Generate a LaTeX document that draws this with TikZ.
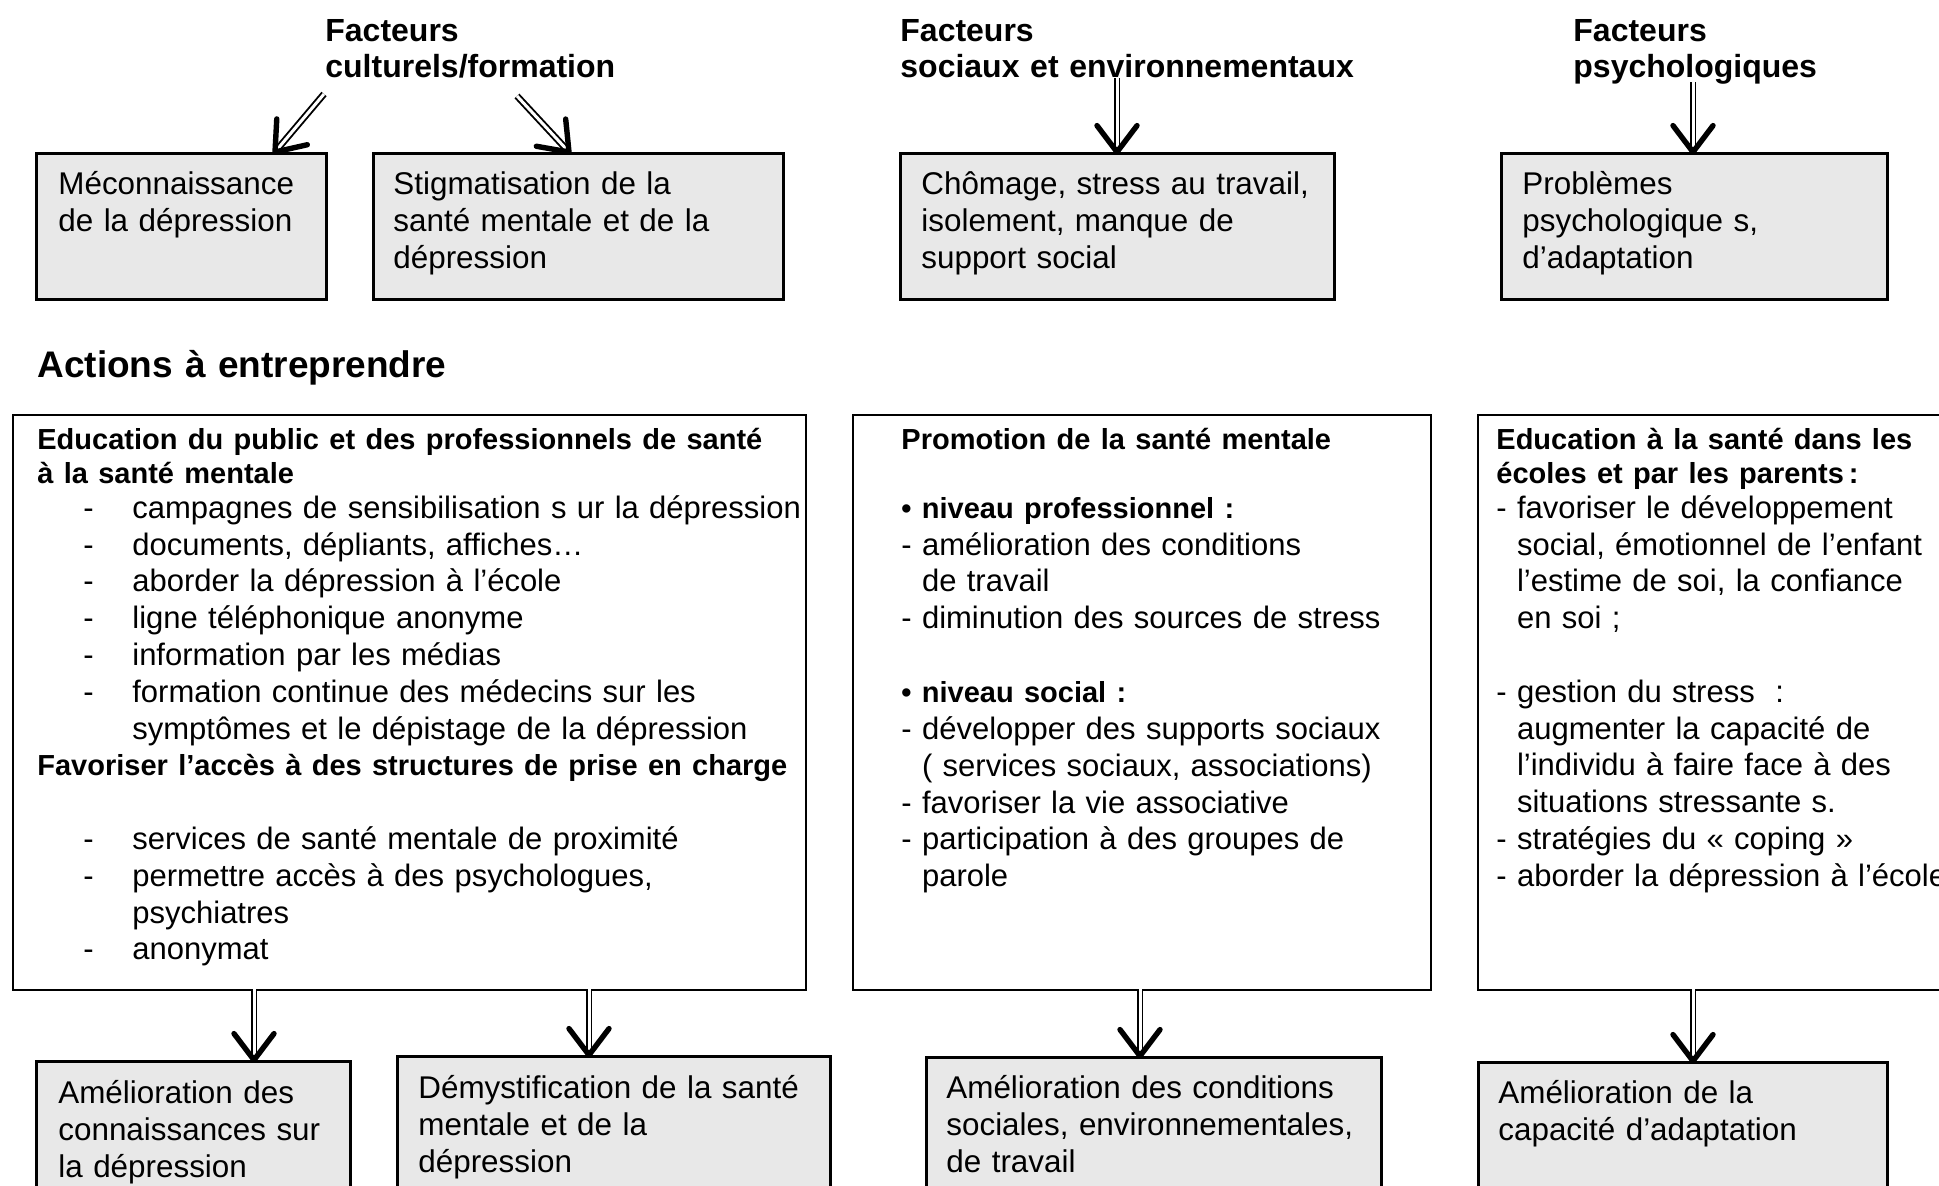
\documentclass[tikz,border=0pt]{standalone}
\usepackage{fontspec}
\setmainfont{Liberation Sans}
\usetikzlibrary{decorations.markings}
\definecolor{boxgray}{HTML}{E8E8E8}
\newcommand\dashitem[1]{\hspace*{23pt}\makebox[24.5pt][l]{-}#1}
\newcommand\dashcont{\hspace*{47.5pt}}
\newcommand\indsp{\phantom{- }}
\newcommand\boldline[1]{{\fontsize{14.5}{17.3}\selectfont\bfseries #1}}
\begin{document}
\begin{tikzpicture}[x=0.5pt,y=-0.5pt,
  font=\fontsize{15.7}{18.5}\selectfont,
  gbox/.style={draw, line width=1.3pt, fill=boxgray, anchor=north west, inner sep=0pt},
  wbox/.style={draw, line width=0.8pt, fill=white, anchor=north west, inner sep=0pt},
  txt/.style={anchor=base west, inner sep=0pt, text width=480pt, align=left},
  bigtxt/.style={txt, font=\fontsize{15.5}{18.4}\selectfont},
  ttl/.style={txt, font=\fontsize{16}{18}\selectfont\bfseries},
  shaft/.style={draw, double, double distance=1.5pt, line width=0.95pt, shorten >=1pt},
  vhead/.style={postaction={decorate, decoration={markings, mark=at position 1 with
      {\draw[line width=2.7pt, line join=round, line cap=round] (-13.2pt,10pt) -- (0,0) -- (-13.2pt,-10pt);}}}}
]
\useasboundingbox (0,0) rectangle (1939,1185);
\fill[white] (0,0) rectangle (1939,1185);

% titles
\node[ttl] (f1) at (325,41) {Facteurs\\culturels/formation};
\node[ttl] (f2) at (900,41) {Facteurs\\sociaux et environnementaux};
\node[ttl] (f3) at (1573,41) {Facteurs\\psychologiques};

% top boxes
\node[gbox, minimum width=145pt, minimum height=73pt] (b1) at (35,152) {};
\node[gbox, minimum width=205pt, minimum height=73pt] (b2) at (372,152) {};
\node[gbox, minimum width=217pt, minimum height=73pt] (b3) at (899,152) {};
\node[gbox, minimum width=193pt, minimum height=73pt] (b4) at (1500,152) {};
\node[txt] (tb1) at (58,194) {Méconnaissance\\de la dépression};
\node[txt] (tb2) at (393,194) {Stigmatisation de la\\santé mentale et de la\\dépression};
\node[txt] (tb3) at (921,194) {Chômage, stress au travail,\\isolement, manque de\\support social};
\node[txt] (tb4) at (1522,194) {Problèmes\\psychologique s,\\d’adaptation};

% section heading
\node[txt, font=\fontsize{18.5}{20}\selectfont\bfseries] (act) at (37,377) {Actions à entreprendre};

% big boxes
\node[wbox, minimum width=396.5pt, minimum height=287.5pt] (A) at (12,414) {};
\node[wbox, minimum width=289pt, minimum height=287.5pt] (B) at (852,414) {};
\node[wbox, minimum width=245pt, minimum height=287.5pt] (C) at (1477,414) {};

\node[bigtxt] (tA) at (37,449) {\boldline{Education du public et des professionnels de santé}\\[-1.1pt]
\boldline{à la santé mentale}\\[-1.1pt]
\dashitem{campagnes de sensibilisation s ur la dépression}\\
\dashitem{documents, dépliants, affiches…}\\
\dashitem{aborder la dépression à l’école}\\
\dashitem{ligne téléphonique anonyme}\\
\dashitem{information par les médias}\\
\dashitem{formation continue des médecins sur les}\\
\dashcont symptômes et le dépistage de la dépression\\
\boldline{Favoriser l’accès à des structures de prise en charge}\\[18.4pt]
\dashitem{services de santé mentale de proximité}\\
\dashitem{permettre accès à des psychologues,}\\
\dashcont psychiatres\\
\dashitem{anonymat}};

\node[bigtxt] (tB) at (901,449) {\boldline{Promotion de la santé mentale}\\[16.2pt]
\boldline{• niveau professionnel :}\\
- amélioration des conditions\\
\indsp de travail\\
- diminution des sources de stress\\[18.6pt]
\boldline{• niveau social :}\\
- développer des supports sociaux\\
\indsp ( services sociaux, associations)\\
- favoriser la vie associative\\
- participation à des groupes de\\
\indsp parole};

\node[bigtxt] (tC) at (1496,449) {\boldline{Education à la santé dans les}\\[-1.1pt]
\boldline{écoles et par les parents\,:}\\[-1.1pt]
- favoriser le développement\\
\indsp social, émotionnel de l’enfant\\
\indsp l’estime de soi, la confiance\\
\indsp en soi ;\\[18.4pt]
- gestion du stress~ :\\
\indsp augmenter la capacité de\\
\indsp l’individu à faire face à des\\
\indsp situations stressante s.\\
- stratégies du « coping »\\
- aborder la dépression à l’école};

% bottom boxes
\node[gbox, minimum width=157pt, minimum height=70pt] (ra) at (35,1060) {};
\node[gbox, minimum width=216.5pt, minimum height=73pt] (rb) at (396,1055) {};
\node[gbox, minimum width=227.5pt, minimum height=73pt] (rc) at (925,1056) {};
\node[gbox, minimum width=204.5pt, minimum height=70pt] (rd) at (1477,1061) {};
\node[txt] (ta) at (58,1103) {Amélioration des\\connaissances sur\\la dépression};
\node[txt] (tbb) at (418,1098) {Démystification de la santé\\mentale et de la\\dépression};
\node[txt] (tc) at (946,1098) {Amélioration des conditions\\sociales, environnementales,\\de travail};
\node[txt] (td) at (1498,1103) {Amélioration de la\\capacité d’adaptation};

% arrow start points
\coordinate (s1) at (324,94);
\coordinate (s2) at (517,96);
\coordinate (s3) at (1117,78);
\coordinate (s4) at (1693,82);
\coordinate (e1) at (275,152);
\coordinate (e2) at (569,152);
\coordinate (u1) at (254,989);
\coordinate (u2) at (589,989);
\coordinate (u3) at (1140,989);
\coordinate (u4) at (1693,989);

% shafts (double lines)
\path[shaft] (s1) -- (b1.north -| e1);
\path[shaft] (s2) -- (b2.north -| e2);
\path[shaft] (s3) -- (b3.north -| s3);
\path[shaft] (s4) -- (b4.north -| s4);
\path[shaft] (u1) -- (ra.north -| u1);
\path[shaft] (u2) -- (rb.north -| u2);
\path[shaft] (u3) -- (rc.north -| u3);
\path[shaft] (u4) -- (rd.north -| u4);
% heads
\path[vhead] (s1) -- (b1.north -| e1);
\path[vhead] (s2) -- (b2.north -| e2);
\path[vhead] (s3) -- (b3.north -| s3);
\path[vhead] (s4) -- (b4.north -| s4);
\path[vhead] (u1) -- (ra.north -| u1);
\path[vhead] (u2) -- (rb.north -| u2);
\path[vhead] (u3) -- (rc.north -| u3);
\path[vhead] (u4) -- (rd.north -| u4);
\end{tikzpicture}
\end{document}
